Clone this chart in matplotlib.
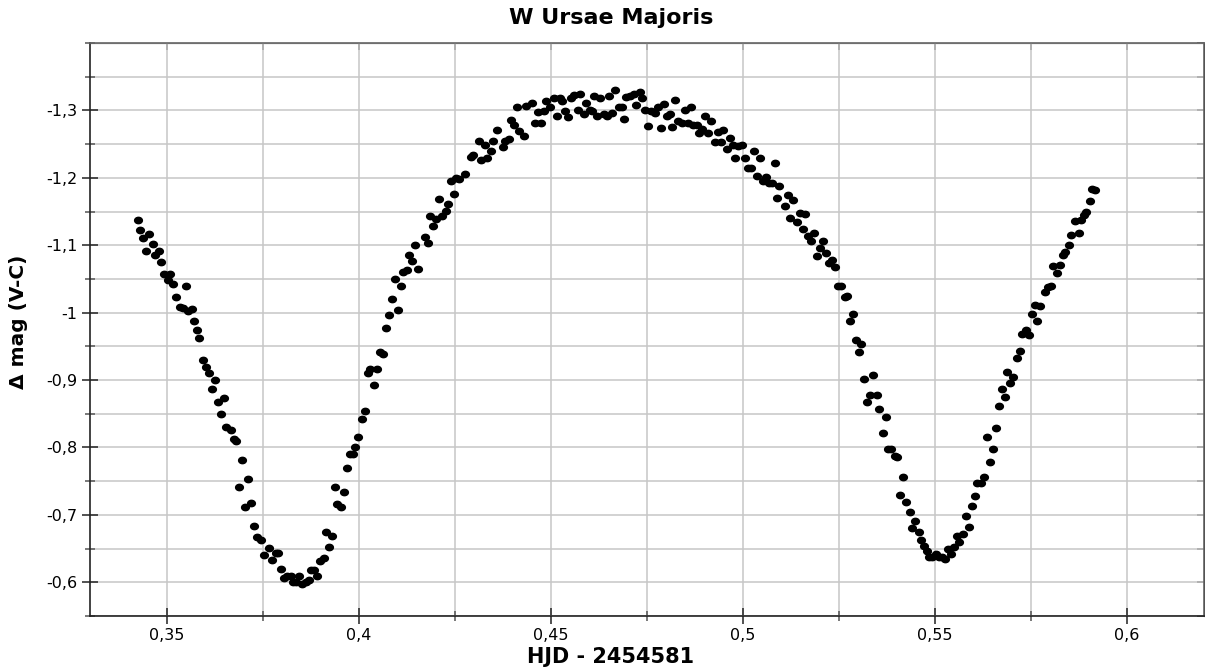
import numpy as np
import matplotlib
matplotlib.use("Agg")
import matplotlib.pyplot as plt
from matplotlib.path import Path
from matplotlib.ticker import MultipleLocator, FuncFormatter

# light curve points (HJD - 2454581, delta mag V-C)
hjd = [
    0.3424, 0.3430, 0.3438, 0.3454, 0.3445, 0.3463, 0.3470, 0.3480, 0.3486, 0.3493,
    0.3508, 0.3502, 0.3515, 0.3523, 0.3549, 0.3534, 0.3542, 0.3556, 0.3565, 0.3571,
    0.3578, 0.3585, 0.3594, 0.3603, 0.3611, 0.3618, 0.3626, 0.3633, 0.3641, 0.3649,
    0.3655, 0.3667, 0.3675, 0.3681, 0.3688, 0.3696, 0.3704, 0.3711, 0.3720, 0.3727,
    0.3734, 0.3745,
    0.3753, 0.3766, 0.3774, 0.3783, 0.3790, 0.3798, 0.3806, 0.3813, 0.3822, 0.3828,
    0.3837, 0.3845, 0.3851, 0.3861, 0.3870, 0.3876, 0.3884, 0.3891, 0.3899, 0.3908,
    0.3915, 0.3923, 0.3929,
    0.3937, 0.3944, 0.3953, 0.3961, 0.3968, 0.3977, 0.3984, 0.3991, 0.3998, 0.4009,
    0.4016, 0.4024, 0.4030, 0.4047, 0.4039, 0.4054, 0.4062, 0.4071, 0.4078, 0.4086,
    0.4101, 0.4093, 0.4109, 0.4116, 0.4125, 0.4131, 0.4138, 0.4147, 0.4155, 0.4171,
    0.4179, 0.4185, 0.4192, 0.4200, 0.4208, 0.4217, 0.4226, 0.4233, 0.4239, 0.4247,
    0.4253,
    0.4260, 0.4276, 0.4291, 0.4297, 0.4319, 0.4334, 0.4312, 0.4327, 0.4343, 0.4349,
    0.4360, 0.4374, 0.4380, 0.4390, 0.4397, 0.4404, 0.4418, 0.4429, 0.4412, 0.4435,
    0.4451, 0.4459, 0.4474, 0.4467, 0.4481, 0.4488, 0.4498, 0.4507, 0.4516, 0.4523,
    0.4530, 0.4537, 0.4544, 0.4553, 0.4561, 0.4576, 0.4570, 0.4585, 0.4591, 0.4602,
    0.4608, 0.4613, 0.4628, 0.4620, 0.4637, 0.4646, 0.4652, 0.4659, 0.4666,
    0.4678, 0.4684, 0.4689, 0.4696, 0.4707, 0.4716, 0.4731, 0.4738, 0.4722, 0.4744,
    0.4753, 0.4761, 0.4770, 0.4779, 0.4793, 0.4786, 0.4803, 0.4810, 0.4815, 0.4823,
    0.4831, 0.4840, 0.4849, 0.4858, 0.4864, 0.4871, 0.4879, 0.4886, 0.4894, 0.4901,
    0.4910, 0.4917, 0.4926, 0.4934, 0.4943, 0.4949, 0.4958, 0.4965, 0.4973, 0.4980,
    0.4987, 0.4997, 0.5004, 0.5013, 0.5022, 0.5028, 0.5037, 0.5044, 0.5052, 0.5059,
    0.5067, 0.5076, 0.5083, 0.5089, 0.5094,
    0.5108, 0.5116, 0.5129, 0.5122, 0.5140, 0.5147, 0.5161, 0.5155, 0.5168, 0.5177,
    0.5184, 0.5192, 0.5200, 0.5209, 0.5217, 0.5224, 0.5231, 0.5240, 0.5246, 0.5254,
    0.5266, 0.5270, 0.5278, 0.5287, 0.5295, 0.5308, 0.5302, 0.5316, 0.5338, 0.5322,
    0.5331, 0.5348, 0.5355, 0.5371, 0.5364, 0.5378, 0.5386, 0.5395, 0.5402, 0.5416,
    0.5408, 0.5425, 0.5434, 0.5448, 0.5441, 0.5457, 0.5464, 0.5471, 0.5478,
    0.5483, 0.5491, 0.5502, 0.5510, 0.5517, 0.5526, 0.5533, 0.5542, 0.5549, 0.5556,
    0.5563, 0.5572, 0.5581, 0.5589, 0.5595, 0.5604, 0.5610, 0.5619, 0.5626, 0.5635,
    0.5643, 0.5650, 0.5659, 0.5667,
    0.5674, 0.5681, 0.5688, 0.5695, 0.5704, 0.5714, 0.5721, 0.5727, 0.5736, 0.5745,
    0.5752, 0.5760, 0.5766, 0.5773, 0.5785, 0.5793, 0.5802, 0.5808, 0.5817, 0.5826,
    0.5832, 0.5839, 0.5848, 0.5855, 0.5865, 0.5874, 0.5880, 0.5887, 0.5894, 0.5902,
    0.5908, 0.5917,
]
dmag = [
    -1.138, -1.123, -1.111, -1.116, -1.091, -1.102, -1.086, -1.091, -1.075, -1.057,
    -1.057, -1.048, -1.043, -1.023, -1.039, -1.008, -1.007, -1.002, -1.005, -0.987,
    -0.974, -0.963, -0.930, -0.919, -0.911, -0.887, -0.900, -0.867, -0.850, -0.874,
    -0.830, -0.826, -0.813, -0.810, -0.742, -0.782, -0.712, -0.753, -0.717, -0.683,
    -0.667, -0.663,
    -0.641, -0.651, -0.633, -0.643, -0.643, -0.619, -0.607, -0.609, -0.610, -0.600,
    -0.600, -0.610, -0.597, -0.601, -0.603, -0.618, -0.618, -0.609, -0.631, -0.636,
    -0.675, -0.653, -0.668,
    -0.741, -0.716, -0.712, -0.734, -0.770, -0.790, -0.790, -0.801, -0.816, -0.842,
    -0.854, -0.911, -0.917, -0.917, -0.892, -0.941, -0.939, -0.977, -0.996, -1.020,
    -1.004, -1.050, -1.040, -1.060, -1.064, -1.085, -1.076, -1.100, -1.065, -1.112,
    -1.103, -1.144, -1.128, -1.139, -1.169, -1.143, -1.151, -1.161, -1.196, -1.176,
    -1.200,
    -1.198, -1.205, -1.231, -1.234, -1.226, -1.230, -1.254, -1.249, -1.240, -1.255,
    -1.271, -1.246, -1.255, -1.258, -1.286, -1.278, -1.270, -1.262, -1.305, -1.307,
    -1.311, -1.282, -1.281, -1.297, -1.299, -1.314, -1.305, -1.318, -1.291, -1.319,
    -1.314, -1.299, -1.290, -1.319, -1.323, -1.325, -1.301, -1.295, -1.311, -1.301,
    -1.299, -1.322, -1.318, -1.291, -1.295, -1.291, -1.322, -1.296, -1.330,
    -1.305, -1.305, -1.288, -1.320, -1.322, -1.325, -1.327, -1.318, -1.308, -1.300,
    -1.277, -1.299, -1.296, -1.305, -1.310, -1.274, -1.291, -1.294, -1.276, -1.316,
    -1.285, -1.282, -1.300, -1.282, -1.305, -1.279, -1.278, -1.267, -1.272, -1.291,
    -1.267, -1.285, -1.253, -1.268, -1.253, -1.271, -1.243, -1.259, -1.249, -1.230,
    -1.247, -1.249, -1.230, -1.215, -1.215, -1.240, -1.203, -1.229, -1.195, -1.201,
    -1.193, -1.192, -1.222, -1.170, -1.188,
    -1.158, -1.175, -1.167, -1.141, -1.134, -1.148, -1.146, -1.124, -1.113, -1.106,
    -1.118, -1.084, -1.096, -1.106, -1.088, -1.073, -1.078, -1.068, -1.040, -1.040,
    -1.023, -1.025, -0.987, -0.998, -0.960, -0.953, -0.941, -0.901, -0.907, -0.868,
    -0.878, -0.878, -0.857, -0.845, -0.821, -0.798, -0.797, -0.787, -0.786, -0.756,
    -0.729, -0.719, -0.705, -0.691, -0.681, -0.674, -0.662, -0.654, -0.646,
    -0.638, -0.638, -0.642, -0.638, -0.637, -0.634, -0.650, -0.642, -0.652, -0.668,
    -0.660, -0.671, -0.699, -0.682, -0.713, -0.728, -0.748, -0.748, -0.756, -0.816,
    -0.778, -0.797, -0.829, -0.862,
    -0.886, -0.875, -0.912, -0.896, -0.905, -0.932, -0.943, -0.968, -0.974, -0.967,
    -0.998, -1.011, -0.987, -1.010, -1.030, -1.038, -1.040, -1.069, -1.059, -1.070,
    -1.085, -1.090, -1.100, -1.115, -1.136, -1.118, -1.137, -1.145, -1.149, -1.166,
    -1.184, -1.182,
]

title = "W Ursae Majoris"
xlabel = "HJD - 2454581"
ylabel = "\u0394 mag (V-C)"
x_ticks = [0.35, 0.4, 0.45, 0.5, 0.55, 0.6]
y_ticks = [-1.3, -1.2, -1.1, -1.0, -0.9, -0.8, -0.7, -0.6]

# slightly wide dot, like the original plot
circ = Path.unit_circle()
dot = Path(circ.vertices * np.array([1.0, 0.82]), circ.codes)

fig = plt.figure(figsize=(12.05, 6.71), dpi=100)
ax = fig.add_axes([90 / 1205, 55 / 671, 1114 / 1205, 573 / 671])

ax.plot(hjd, dmag, linestyle="none", marker=dot, markersize=5.6,
        color="black", zorder=3)

ax.set_xlim(0.33, 0.62)
ax.set_ylim(-0.55, -1.4)

ax.set_xticks(x_ticks)
ax.set_yticks(y_ticks)
ax.xaxis.set_minor_locator(MultipleLocator(0.025))
ax.yaxis.set_minor_locator(MultipleLocator(0.05))

comma = FuncFormatter(lambda v, p: ("%g" % round(v, 3)).replace(".", ","))
ax.xaxis.set_major_formatter(comma)
ax.yaxis.set_major_formatter(comma)

ax.grid(which="both", color="#c6c6c6", linewidth=1.1, zorder=0)
ax.set_axisbelow(True)

ax.tick_params(which="major", direction="inout", length=12, width=1.1,
               labelsize=11.5, color="#222222", pad=3)
ax.tick_params(which="minor", direction="inout", length=7, width=1.1,
               color="#555555")

for s in ["left", "bottom"]:
    ax.spines[s].set_color("#222222")
    ax.spines[s].set_linewidth(1.2)
for s in ["top", "right"]:
    ax.spines[s].set_color("#666666")
    ax.spines[s].set_linewidth(1.2)

# short inward ticks on top and right
ax2 = ax.secondary_xaxis("top")
ax2.xaxis.set_major_locator(MultipleLocator(0.025))
ax2.tick_params(direction="in", length=5, width=1.1, color="#444444", labeltop=False)
ax3 = ax.secondary_yaxis("right")
ax3.yaxis.set_major_locator(MultipleLocator(0.05))
ax3.tick_params(direction="in", length=5, width=1.1, color="#444444", labelright=False)

fig.text(611 / 1205, 1 - 18 / 671, title, ha="center", va="center",
         fontsize=16, fontweight="bold")
fig.text(611 / 1205, 1 - 657 / 671, xlabel, ha="center", va="center",
         fontsize=15, fontweight="bold")
fig.text(19 / 1205, 1 - 322 / 671, ylabel, ha="center", va="center",
         rotation=90, fontsize=14.5, fontweight="bold")

fig.savefig("out.png", dpi=100)
